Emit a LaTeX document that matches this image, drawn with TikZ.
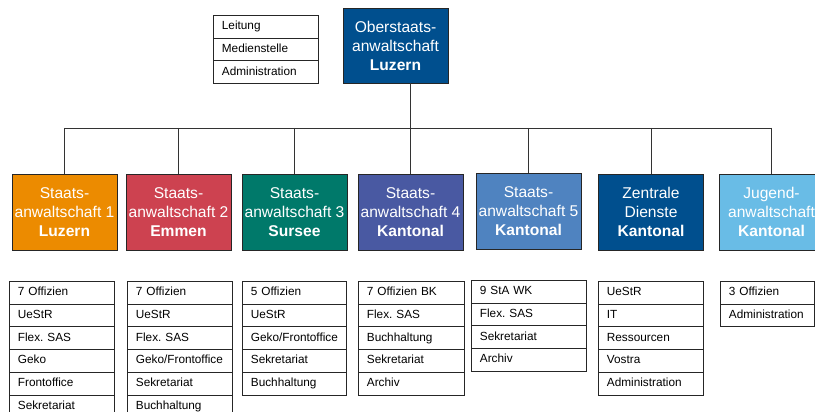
\documentclass[tikz,border=0pt]{standalone}
\usepackage{fontspec}
\setmainfont{Liberation Sans}
\frenchspacing
\definecolor{cTop}{HTML}{004F8E}
\definecolor{cOrange}{HTML}{EC8B00}
\definecolor{cRed}{HTML}{CD4250}
\definecolor{cTeal}{HTML}{00796A}
\definecolor{cPurple}{HTML}{4959A2}
\definecolor{cMid}{HTML}{4F83C0}
\definecolor{cDark}{HTML}{004F8E}
\definecolor{cLight}{HTML}{69BCE6}
\newcommand\mklist[5]{%
  \pgfmathsetmacro\tw{#4-17}%
  \foreach \t [count=\i] in {#5}{%
    \node[row, text width=\tw pt] (#1-\i) at (#2,{#3+(\i-1)*22.7}) {\t};
  }}
\begin{document}
\frenchspacing
\begin{tikzpicture}[x=1pt,y=-1pt,
  unit/.style={draw=black!85, line width=0.8pt, minimum width=105pt, minimum height=76pt,
    inner sep=0pt, text=white, align=center, font=\fontsize{15.6}{19}\selectfont},
  row/.style={draw=black!85, line width=0.8pt, minimum height=22.7pt, inner xsep=8.5pt,
    inner ysep=0pt, text height=8.6pt, text depth=2.4pt, align=left,
    font=\fontsize{11.8}{13}\selectfont\frenchspacing, anchor=north west},
  link/.style={draw=black!80, line width=0.9pt}]
\useasboundingbox (0,0) rectangle (815,412);
\clip (0,0) rectangle (815,412);

\node[unit, fill=cTop, minimum height=75pt] (top) at (395.5,45.5) {Oberstaats-\\anwaltschaft\\\textbf{Luzern}};
\mklist{side}{213}{15}{105}{Leitung,Medienstelle,Administration}

\node[unit, fill=cOrange] (c1) at (64.5,212) {Staats-\\anwaltschaft 1\\\textbf{Luzern}};
\node[unit, fill=cRed] (c2) at (178.5,212) {Staats-\\anwaltschaft 2\\\textbf{Emmen}};
\node[unit, fill=cTeal] (c3) at (294.5,212) {Staats-\\anwaltschaft 3\\\textbf{Sursee}};
\node[unit, fill=cPurple] (c4) at (410.5,212) {Staats-\\anwaltschaft 4\\\textbf{Kantonal}};
\node[unit, fill=cMid] (c5) at (528.5,211) {Staats-\\anwaltschaft 5\\\textbf{Kantonal}};
\node[unit, fill=cDark] (c6) at (651,212) {Zentrale\\Dienste\\\textbf{Kantonal}};
\node[unit, fill=cLight] (c7) at (771.5,212) {Jugend-\\anwaltschaft\\\textbf{Kantonal}};

\coordinate (bus) at (410,128);
\draw[link] (top.south -| bus) -- (bus);
\draw[link] (bus -| c1.north) -- (bus -| c7.north);
\foreach \c in {c1,c2,c3,c4,c5,c6,c7} \draw[link] (bus -| \c.north) -- (\c.north);

\mklist{l1}{9}{281}{105}{7 Offizien,UeStR,Flex. SAS,Geko,Frontoffice,Sekretariat}
\mklist{l2}{127}{281}{105}{7 Offizien,UeStR,Flex. SAS,Geko/Frontoffice,Sekretariat,Buchhaltung}
\mklist{l3}{242}{281}{104}{5 Offizien,UeStR,Geko/Frontoffice,Sekretariat,Buchhaltung}
\mklist{l4}{358}{281}{106}{7 Offizien BK,Flex. SAS,Buchhaltung,Sekretariat,Archiv}
\mklist{l5}{471}{280}{115}{9 StA WK,Flex. SAS,Sekretariat,Archiv}
\mklist{l6}{598}{281}{105}{UeStR,IT,Ressourcen,Vostra,Administration}
\mklist{l7}{720}{281}{94}{3 Offizien,Administration}
\end{tikzpicture}
\end{document}
